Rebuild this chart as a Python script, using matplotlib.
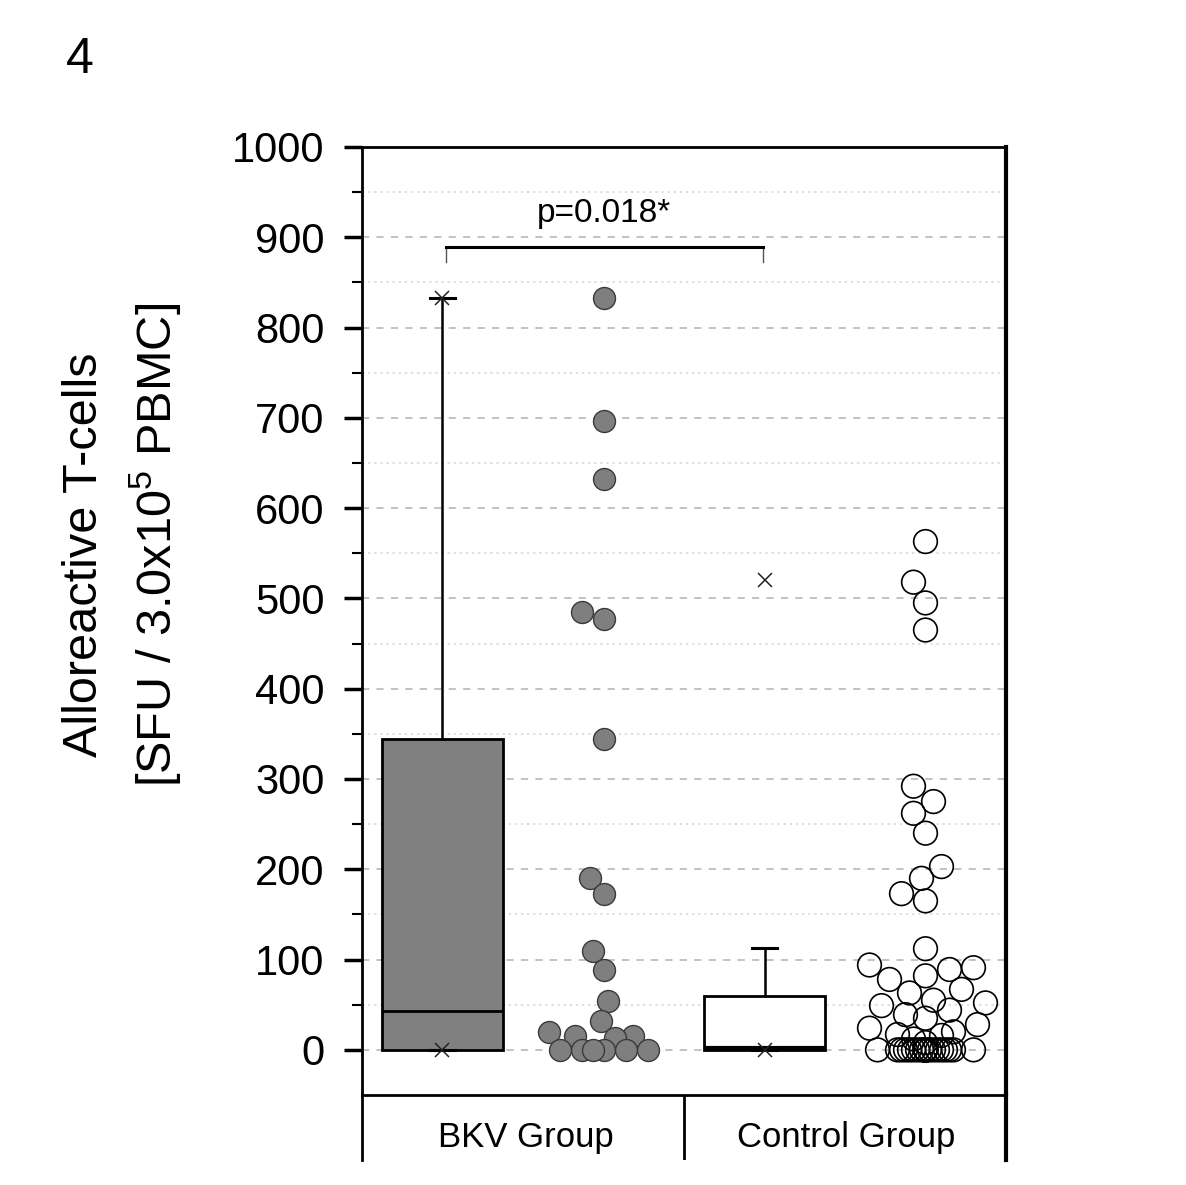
import numpy as np
import matplotlib
matplotlib.use("Agg")
import matplotlib.pyplot as plt
from matplotlib.ticker import FixedLocator

plt.rcParams['font.family'] = ['Liberation Sans', 'DejaVu Sans']
plt.rcParams['mathtext.fontset'] = 'custom'
plt.rcParams['mathtext.rm'] = 'Liberation Sans'

# ---------------- data ----------------
categories = ["BKV Group", "Control Group"]
bkv_values = [833, 696, 632, 485, 477, 344, 190, 173, 110, 89, 54, 32,
              20, 15, 15, 13, 0, 0, 0, 0, 0, 0]
control_values = [563, 518, 495, 465, 292, 275, 262, 240, 203, 190, 173, 165, 112,
                  94, 91, 89, 82, 78, 67, 63, 55, 52, 49, 44, 39, 35, 28, 24, 20,
                  17, 16, 12, 8] + [0] * 30
# box statistics
box_q1 = [0, 0]
box_median = [43, 2]
box_q3 = [344, 60]
whisker_low = [0, 0]
whisker_high = [833, 113]
pct_1 = [0, 0]
pct_99 = [833, 520]
y_ticks = [0, 100, 200, 300, 400, 500, 600, 700, 800, 900, 1000]
y_minor = [50, 150, 250, 350, 450, 550, 650, 750, 850, 950]
p_text = "p=0.018*"
panel_label = "4"

# ---------------- figure ----------------
W, H = 1186, 1185
fig = plt.figure(figsize=(W / 100, H / 100), dpi=100)
ax = fig.add_axes([362 / W, 1 - 1095 / H, (1006 - 362) / W, (1095 - 147) / H])
ax.set_xlim(0.5, 4.5)
ax.set_ylim(-50, 1000)

box_pos = [1, 3]
scatter_pos = [2, 4]

# grid
for y in y_ticks[:-1]:
    ax.axhline(y, color='#bdbdbd', lw=1.3, ls=(0, (4, 4)), zorder=0)
for y in y_minor:
    ax.axhline(y, color='#d6d6d6', lw=1.1, ls=(0, (1.5, 2.5)), zorder=0)

# boxes
stats = []
for i in range(2):
    stats.append(dict(q1=box_q1[i], med=box_median[i], q3=box_q3[i],
                      whislo=whisker_low[i], whishi=whisker_high[i], fliers=[]))
bp = ax.bxp(stats, positions=box_pos, widths=0.75, patch_artist=True,
            showfliers=False, capwidths=0.16,
            boxprops=dict(linewidth=2.0, edgecolor='black'),
            medianprops=dict(color='black', linewidth=2.0),
            whiskerprops=dict(color='black', linewidth=1.8),
            capprops=dict(color='black', linewidth=2.2))
for patch, fc in zip(bp['boxes'], ['#808080', 'white']):
    patch.set_facecolor(fc)
    patch.set_zorder(2)
bp['medians'][1].set_linewidth(3.0)
ax.plot(box_pos, pct_1, ls='none', marker='x', ms=10, mew=1.1, color='#222222', zorder=4)
ax.plot(box_pos, pct_99, ls='none', marker='x', ms=10, mew=1.1, color='#222222', zorder=4)


def swarm(values, center, diam, max_half, overflow_half):
    t = ax.transData
    xpx = t.transform((1, 0))[0] - t.transform((0, 0))[0]
    vals = np.asarray(values, dtype=float)
    ypx = np.array([t.transform((center, v))[1] for v in vals])
    order = np.argsort(vals, kind='stable')
    cands = np.arange(-max_half, max_half + 0.01, diam / 6.0)
    cands = cands[np.argsort(np.abs(cands) + 1e-6 * cands)]
    placed = []
    offs = np.zeros(len(vals))
    for k in order:
        best, bestd = 0.0, -1
        chosen = None
        for c in cands:
            if placed:
                d = min(np.hypot(c - px, ypx[k] - py) for px, py in placed)
            else:
                d = np.inf
            if d >= 0.95 * diam:
                chosen = c
                break
            if abs(c) <= overflow_half and d > bestd:
                bestd, best = d, c
        if chosen is None:
            chosen = best
        placed.append((chosen, ypx[k]))
        offs[k] = chosen
    return center + offs / xpx, vals


bx, by = swarm(bkv_values, scatter_pos[0], 22, 58, 30)
ax.scatter(bx, by, s=250, facecolor='#7f7f7f', edgecolor='#3a3a3a', linewidth=1.0, zorder=5)
cx, cy = swarm(control_values, scatter_pos[1], 24, 60, 28)
ax.scatter(cx, cy, s=290, facecolor='none', edgecolor='black', linewidth=1.2, zorder=5)

# significance bracket
ax.plot([1.02, 1.02], [873, 889], color='#555555', lw=1.0, zorder=6)
ax.plot([2.99, 2.99], [873, 889], color='#555555', lw=1.0, zorder=6)
ax.plot([1.02, 2.99], [889, 889], color='black', lw=2.2, zorder=6)
ax.text(2.0, 926, p_text, ha='center', va='center', fontsize=24)

# axes styling
ax.set_xticks([])
ax.yaxis.set_major_locator(FixedLocator(y_ticks))
ax.yaxis.set_minor_locator(FixedLocator(y_minor))
ax.tick_params(axis='y', which='major', length=13, width=2.5, labelsize=30, pad=14, direction='out')
ax.tick_params(axis='y', which='minor', length=7, width=1.5, direction='out')
for s in ['left', 'top', 'bottom']:
    ax.spines[s].set_linewidth(2.0)
ax.spines['right'].set_linewidth(3.0)

# category band
bax = fig.add_axes([362 / W, 1 - 1160 / H, (1006 - 362) / W, (1160 - 1095) / H])
bax.set_xlim(0.5, 4.5)
bax.set_ylim(0, 1)
bax.set_xticks([])
bax.set_yticks([])
bax.patch.set_alpha(0)
for s in ['top', 'bottom']:
    bax.spines[s].set_visible(False)
bax.spines['left'].set_linewidth(2.0)
bax.spines['right'].set_linewidth(3.0)
bax.axvline(2.5, color='black', lw=2.0)
for pos, lab in zip([1.52, 3.51], categories):
    bax.text(pos, 0.35, lab, ha='center', va='center', fontsize=25)

# y label (two lines)
fig.text(85 / W, 1 - 555 / H, "Alloreactive T-cells", rotation=90,
         ha='center', va='center', fontsize=35)
fig.text(155 / W, 1 - 545 / H, "[SFU / 3.0x10$^{5}$ PBMC]", rotation=90,
         ha='center', va='center', fontsize=35)

# panel label
fig.text(80 / W, 1 - 60 / H, panel_label, ha='center', va='center', fontsize=36)

fig.savefig("out.png", dpi=100, facecolor='white')
